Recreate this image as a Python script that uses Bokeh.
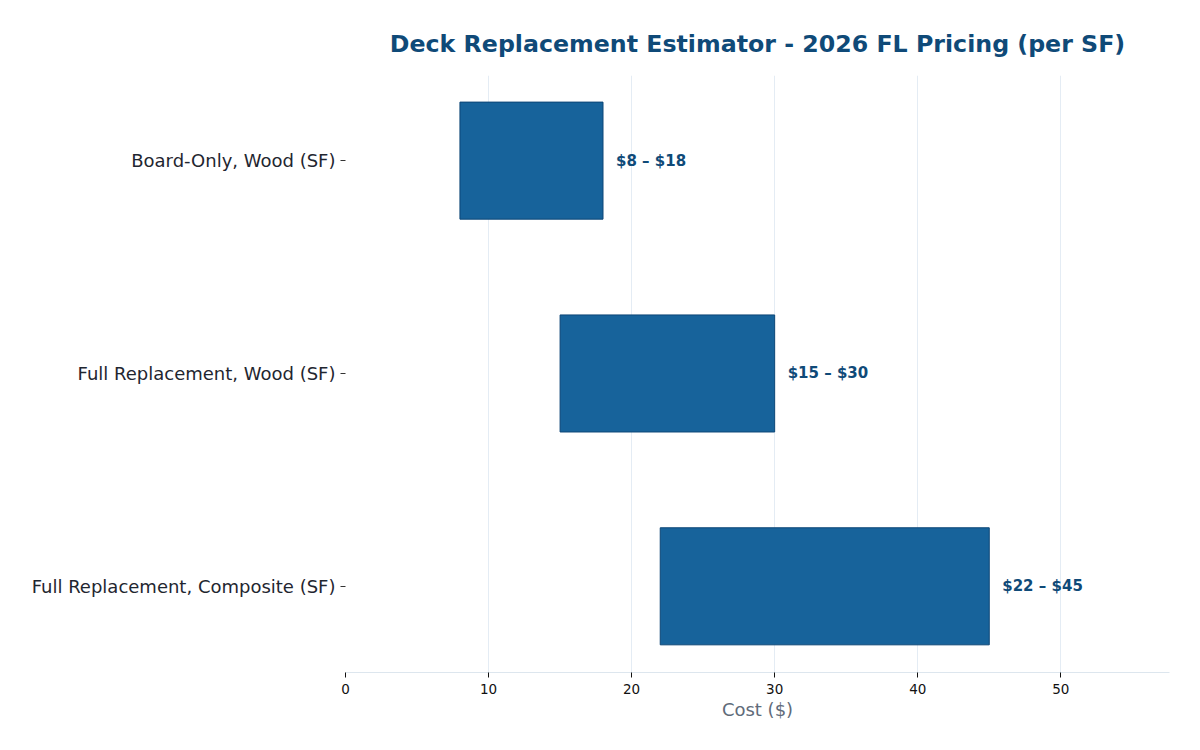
from bokeh.plotting import figure
from bokeh.models import ColumnDataSource, Range1d, FixedTicker, LabelSet
from bokeh.core.properties import value
from bokeh.embed import file_html
from bokeh.resources import INLINE

# Cost ranges per square foot
categories = ["Full Replacement, Composite (SF)", "Full Replacement, Wood (SF)", "Board-Only, Wood (SF)"]
low_cost = [22, 15, 8]
high_cost = [45, 30, 18]

positions = list(range(len(categories)))
labels = [f"${lo} \u2013 ${hi}" for lo, hi in zip(low_cost, high_cost)]

source = ColumnDataSource(dict(
    y=positions, left=low_cost, right=high_cost, label=labels,
))

FONT = "DejaVu Sans"
DARK = "#0f4a78"

p = figure(
    width=1200, height=750,
    x_range=Range1d(0, max(high_cost) * 1.28),
    y_range=Range1d(-0.405, len(categories) - 1 + 0.4),
    output_backend="svg", toolbar_location=None,
    min_border_left=345, min_border_right=31, min_border_top=75, min_border_bottom=78,
)

p.title.text = "Deck Replacement Estimator - 2026 FL Pricing (per SF)"
p.title.text_font = FONT
p.title.text_font_size = "23.7px"
p.title.text_font_style = "bold"
p.title.text_color = DARK
p.title.align = "center"
p.title.standoff = 36

p.hbar(y="y", left="left", right="right", height=0.55, source=source,
       fill_color="#17639b", line_color="#0d4677", line_width=1)

p.add_layout(LabelSet(x="right", y="y", text="label", source=source,
                      x_offset=13, y_offset=0,
                      text_font=value(FONT), text_font_size="15px", text_font_style="bold",
                      text_color=DARK, text_baseline="middle"))

# Axes
p.xaxis.ticker = FixedTicker(ticks=[0, 10, 20, 30, 40, 50])
p.xaxis.axis_label = "Cost ($)"
p.xaxis.axis_label_text_font = FONT
p.xaxis.axis_label_text_font_size = "18px"
p.xaxis.axis_label_text_font_style = "normal"
p.xaxis.axis_label_text_color = "#5f6b7a"
p.xaxis.axis_label_standoff = 2
p.xaxis.major_label_text_font = FONT
p.xaxis.major_label_text_font_size = "13.5px"
p.xaxis.major_label_text_color = "#111111"
p.xaxis.major_label_standoff = 6
p.xaxis.axis_line_color = "#dde6ee"
p.xaxis.major_tick_line_color = "#111111"
p.xaxis.major_tick_in = 0
p.xaxis.major_tick_out = 5
p.xaxis.minor_tick_line_color = None

p.yaxis.ticker = FixedTicker(ticks=positions)
p.yaxis.major_label_overrides = {i: c for i, c in enumerate(categories)}
p.yaxis.major_label_text_font = FONT
p.yaxis.major_label_text_font_size = "18px"
p.yaxis.major_label_text_color = "#1f2630"
p.yaxis.major_label_standoff = 5
p.yaxis.axis_line_color = None
p.yaxis.major_tick_line_color = "#333333"
p.yaxis.major_tick_in = 0
p.yaxis.major_tick_out = 5
p.yaxis.minor_tick_line_color = None

p.xgrid.grid_line_color = "#e4ecf4"
p.ygrid.grid_line_color = None
p.outline_line_color = None

open("out.html", "w").write(file_html(p, INLINE))
